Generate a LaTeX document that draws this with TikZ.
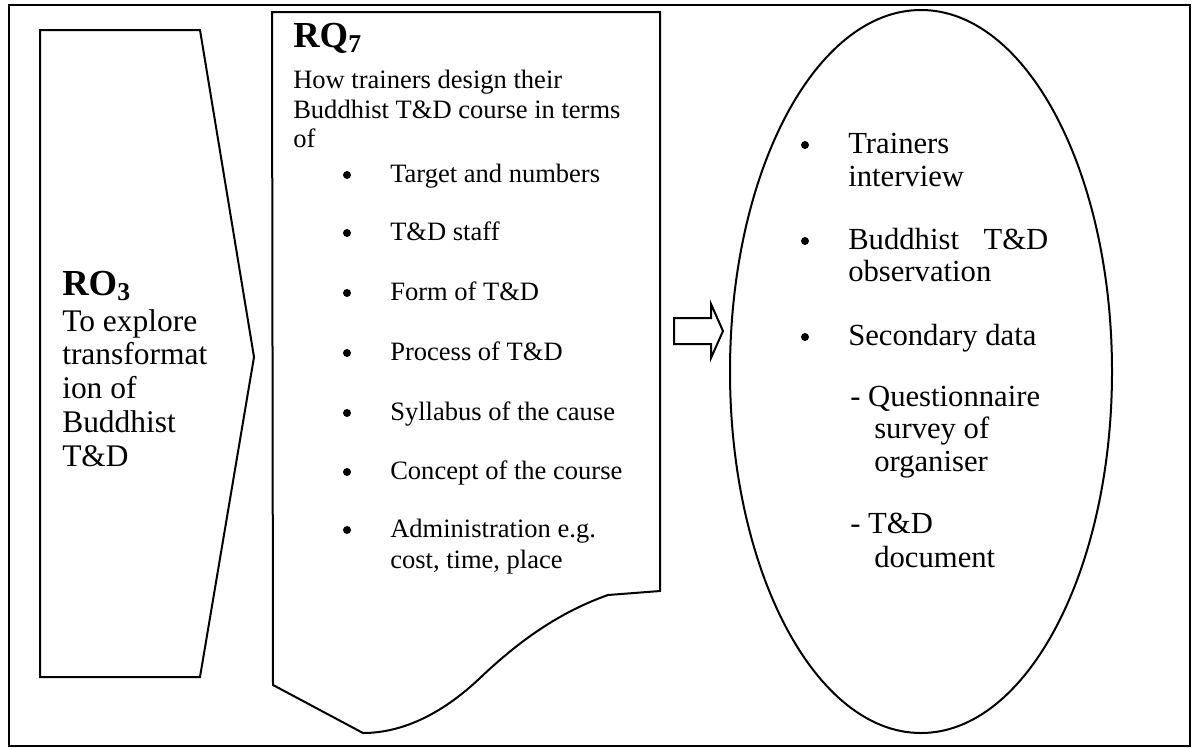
\documentclass[tikz,border=0pt]{standalone}
\usepackage{fontspec}
\setmainfont{Liberation Serif}
\usetikzlibrary{positioning}

\tikzset{
  outline/.style={draw, line width=1.5pt},
  headtext/.style={anchor=base west, inner sep=0pt, font=\fontsize{27.5}{30}\selectfont\bfseries},
  chevtext/.style={anchor=base west, inner sep=0pt, font=\fontsize{23.6}{26}\selectfont},
  rqtext/.style={anchor=base west, inner sep=0pt, font=\fontsize{19.9}{22}\selectfont},
  ovtext/.style={anchor=base west, inner sep=0pt, font=\fontsize{23}{25}\selectfont},
  dot/.style={circle, fill, inner sep=0pt, minimum size=6pt},
}

\begin{document}
\begin{tikzpicture}[x=0.75pt,y=0.75pt,yscale=-1,xscale=1]
\useasboundingbox (0,0) rectangle (1192,747);

%Shape: Frame
\draw[outline] (9,5) rectangle (1190,746);

%Shape: Chevron
\draw[outline] (40,30) -- (200,30) -- (254,357) -- (200,677) -- (40,677) -- cycle;

%Shape: Document
\draw[outline] (272,12) -- (660,12) -- (660,591) -- (608,595) .. controls (560,612) and (520,640) .. (480,678) .. controls (440,716) and (400,733) .. (363,733) -- (273,685) -- cycle;

%Shape: Ellipse
\draw[outline] (921,371.5) ellipse [x radius=191, y radius=361.5];

%Shape: Block Arrow
\draw[outline] (674,318) -- (711,318) -- (711,304) -- (723,331) -- (711,358) -- (711,344) -- (674,344) -- cycle;

% Text Node
\node[headtext] (ro) at (62,295) {RO\textsubscript{3}};
\node[chevtext] (ro-l1) at (62,331) {To explore};
\node[chevtext] (ro-l2) at (62,364) {transformat};
\node[chevtext] (ro-l3) at (62,398) {ion of};
\node[chevtext] (ro-l4) at (62,432) {Buddhist};
\node[chevtext] (ro-l5) at (62,466) {T\&D};

% Text Node
\node[headtext] (rq) at (293,47) {RQ\textsubscript{7}};
\node[rqtext] (rq-l1) at (293,88) {How trainers design their};
\node[rqtext] (rq-l2) at (293,118) {Buddhist T\&D course in terms};
\node[rqtext] (rq-l3) at (293,147) {of};

% Bullets
\node[dot] (rq-b1) at (347,175) {};
\node[rqtext] (rq-i1) at (390,182) {Target and numbers};
\node[dot] (rq-b2) at (347,233) {};
\node[rqtext] (rq-i2) at (390,240) {T\&D staff};
\node[dot] (rq-b3) at (347,293) {};
\node[rqtext] (rq-i3) at (390,300) {Form of T\&D};
\node[dot] (rq-b4) at (347,353) {};
\node[rqtext] (rq-i4) at (390,360) {Process of T\&D};
\node[dot] (rq-b5) at (347,413) {};
\node[rqtext] (rq-i5) at (390,420) {Syllabus of the cause};
\node[dot] (rq-b6) at (347,472) {};
\node[rqtext] (rq-i6) at (390,479) {Concept of the course};
\node[dot] (rq-b7) at (347,530) {};
\node[rqtext] (rq-i7) at (390,537) {Administration e.g.};
\node[rqtext] (rq-i7b) at (390,568) {cost, time, place};

% Text Node
\node[dot] (ov-b1) at (805,145) {};
\node[ovtext] (ov-i1) at (848,153) {Trainers};
\node[ovtext] (ov-i1b) at (848,186) {interview};
\node[dot] (ov-b2) at (805,241) {};
\node[ovtext] (ov-i2) at (848,249) {Buddhist\hskip 0.8em T\&D};
\node[ovtext] (ov-i2b) at (848,281) {observation};
\node[dot] (ov-b3) at (805,337) {};
\node[ovtext] (ov-i3) at (848,345) {Secondary data};
\node[ovtext] (ov-s1) at (850,406) {- Questionnaire};
\node[ovtext] (ov-s1b) at (874,438) {survey of};
\node[ovtext] (ov-s1c) at (874,471) {organiser};
\node[ovtext] (ov-s2) at (850,533) {- T\&D};
\node[ovtext] (ov-s2b) at (874,567) {document};

\end{tikzpicture}
\end{document}
